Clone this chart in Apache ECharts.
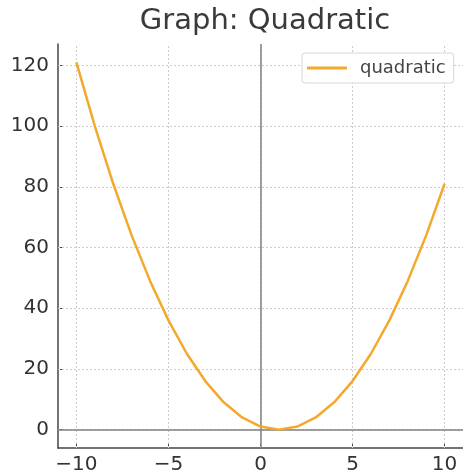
<!DOCTYPE html>
<html><head><meta charset="utf-8">
<script src="https://cdn.jsdelivr.net/npm/echarts@6/dist/echarts.min.js"></script>
<style>html,body{margin:0;padding:0;background:#fff}#c{width:463px;height:475px}</style>
</head><body><div id="c"></div>
<script>
const xValues = [-10,-9,-8,-7,-6,-5,-4,-3,-2,-1,0,1,2,3,4,5,6,7,8,9,10];
const yValues = [121,100,81,64,49,36,25,16,9,4,1,0,1,4,9,16,25,36,49,64,81];
const xTicks = [-10,-5,0,5,10];
const yTicks = [0,20,40,60,80,100,120];
const seriesName = 'quadratic';
const titleText = 'Graph: Quadratic';

const font = 'DejaVu Sans';
const chart = echarts.init(document.getElementById('c'), null, {renderer:'canvas'});
const gridStyle = {color:'#cccccc', type:[2,2], width:1};
const gridLines = [
  ...xTicks.map(v => ({xAxis:v, lineStyle:gridStyle})),
  ...yTicks.map(v => ({yAxis:v, lineStyle:gridStyle})),
  {xAxis:0, lineStyle:{color:'#808080', type:'solid', width:1.5}},
  {yAxis:0, lineStyle:{color:'#808080', type:'solid', width:1.5}}
];
chart.setOption({
  animation:false,
  title:{text:titleText, left:260, textAlign:'center', top:2,
    textStyle:{fontFamily:font, fontSize:29, fontWeight:'normal', color:'#3a3a3a'}},
  legend:{data:[seriesName], left:302, top:53, orient:'vertical',
    borderColor:'#d6d6d6', borderWidth:1, borderRadius:3, padding:[6,8,6,5],
    backgroundColor:'#fff', itemWidth:40, itemHeight:3, itemGap:4,
    icon:'rect',
    textStyle:{fontFamily:font, fontSize:18, color:'#444', padding:[0,0,0,8]}},
  grid:{left:58, right:0, top:44, bottom:27, containLabel:false},
  xAxis:{type:'value', min:-11, max:11,
    axisLine:{onZero:false, lineStyle:{color:'#444', width:1.5}},
    axisTick:{inside:true, length:5, customValues:xTicks, lineStyle:{color:'#444', width:1}},
    axisLabel:{customValues:xTicks, fontFamily:font, fontSize:20, color:'#333', margin:7,
      formatter:v => v < 0 ? '\u2212' + Math.abs(v) : String(v)},
    splitLine:{show:false}},
  yAxis:{type:'value', min:-6.05, max:127.05,
    axisLine:{show:true, onZero:false, lineStyle:{color:'#444', width:1.5}},
    axisTick:{show:true, inside:true, length:5, customValues:yTicks, lineStyle:{color:'#444', width:1}},
    axisLabel:{customValues:yTicks, fontFamily:font, fontSize:20, color:'#333', margin:9},
    splitLine:{show:false}},
  series:[{
    name:seriesName, type:'line', data:xValues.map((x,i)=>[x,yValues[i]]),
    showSymbol:false, symbol:'none', z:5,
    lineStyle:{color:'#f2a92c', width:2.5}, itemStyle:{color:'#f2a92c'},
    markLine:{silent:true, symbol:'none', label:{show:false}, data:gridLines, z:1, animation:false}
  }]
});
</script></body></html>
